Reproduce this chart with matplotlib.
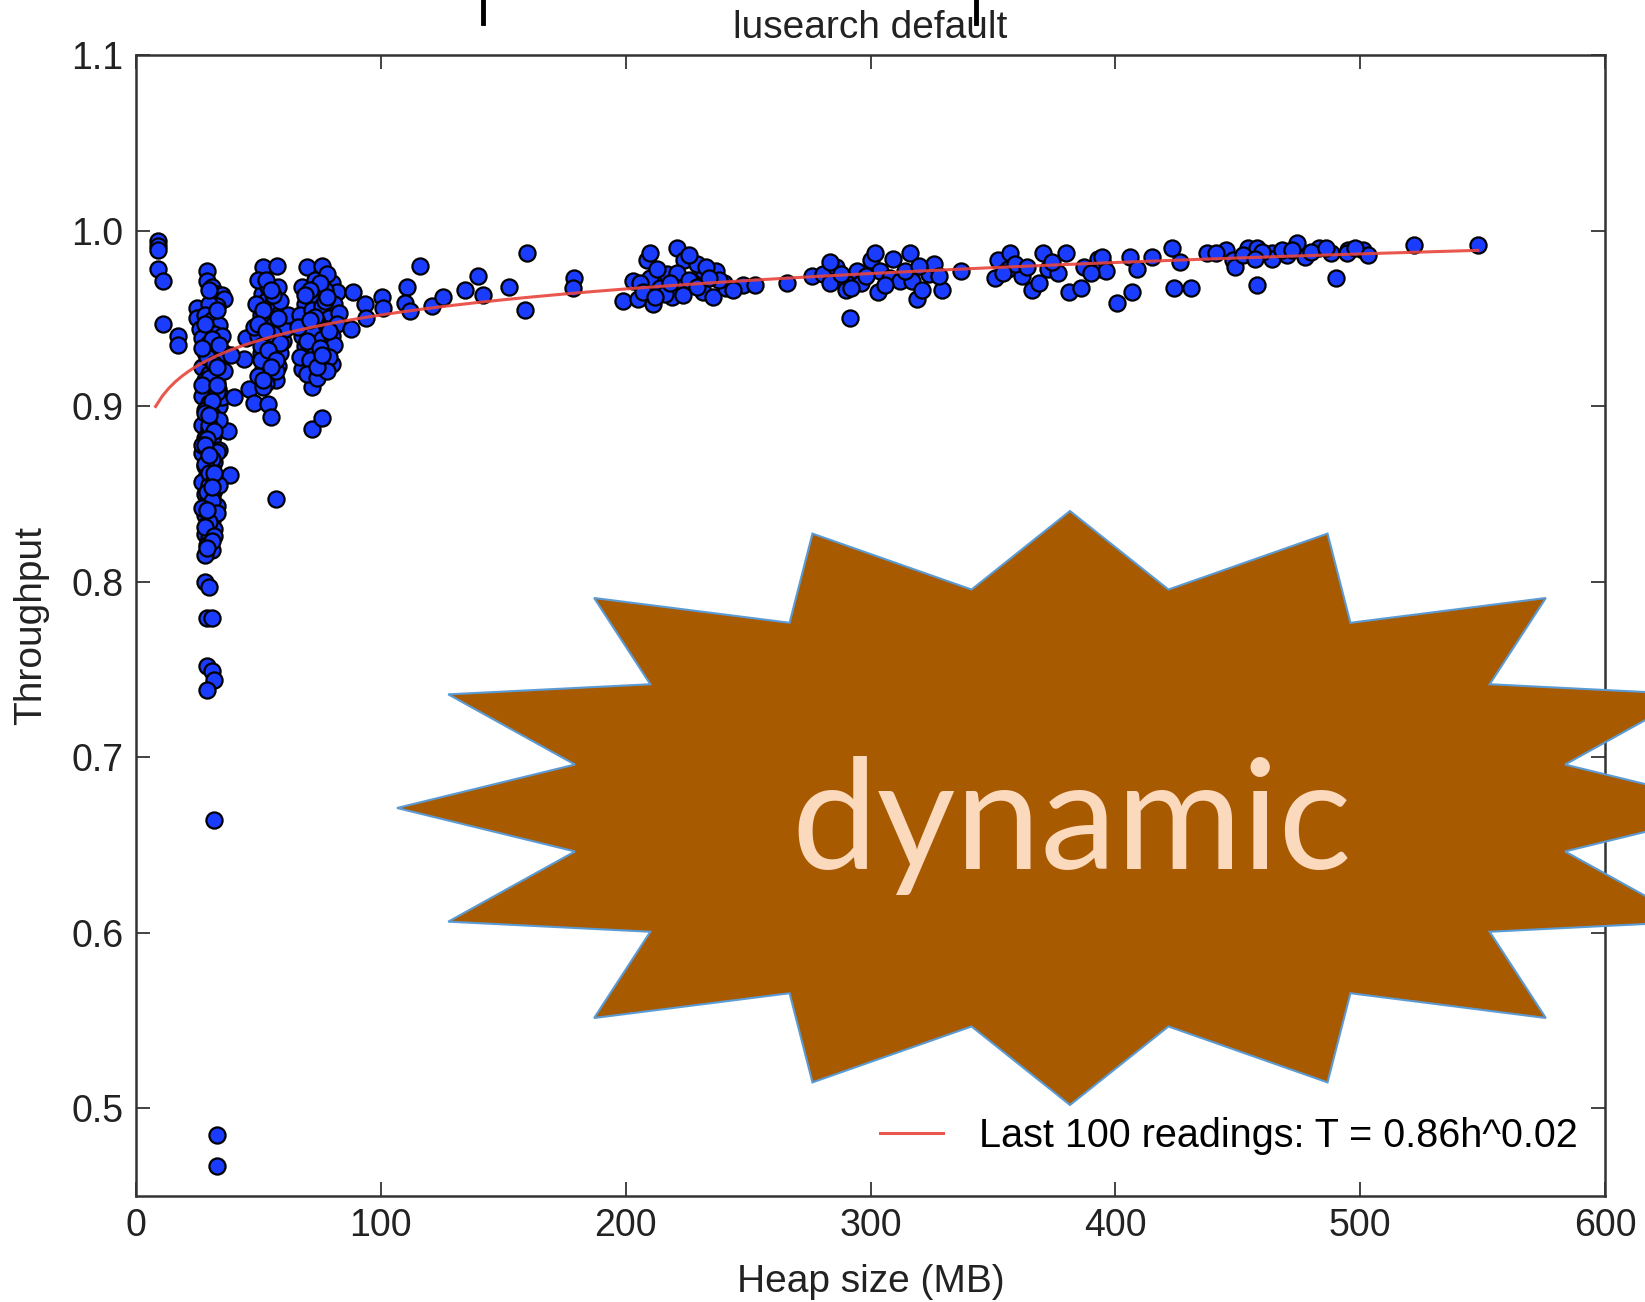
import numpy as np
import matplotlib
matplotlib.use("Agg")
import matplotlib.pyplot as plt
from matplotlib.patches import Polygon
from matplotlib.lines import Line2D

plt.rcParams['font.family'] = ['Liberation Sans', 'DejaVu Sans']

# heap size (MB) / throughput readings, grouped by region of the plot
left_x = [9, 9, 9, 9, 11, 11, 17, 17]
left_y = [0.994, 0.991, 0.989, 0.978, 0.971, 0.947, 0.940, 0.935]

col_x = [25, 25, 26, 29, 29, 31, 33, 35, 36, 33, 30, 28, 31, 34, 29, 32, 27, 30,
         33, 28, 31, 34, 29, 27, 32, 30, 28, 33, 31, 29, 27, 32, 30, 34, 28, 31,
         29, 33, 27, 30, 32, 28, 31, 29, 34, 27, 30, 32, 28, 31, 29, 33, 27, 30,
         32, 28, 31, 29, 33, 30, 28, 31, 29, 32, 28, 30, 29, 31, 28,
         28, 30, 29, 31, 29, 31, 32, 29, 32, 33, 33,
         37.5, 38.5, 33.5, 35, 36, 35, 36]
col_y = [0.956, 0.950, 0.944, 0.977, 0.971, 0.968, 0.964, 0.963, 0.961, 0.957,
         0.958, 0.952, 0.949, 0.946, 0.944, 0.941, 0.939, 0.936, 0.934, 0.931,
         0.929, 0.927, 0.925, 0.922, 0.920, 0.918, 0.915, 0.913, 0.911, 0.909,
         0.906, 0.904, 0.902, 0.900, 0.898, 0.895, 0.893, 0.891, 0.889, 0.887,
         0.884, 0.882, 0.880, 0.877, 0.875, 0.873, 0.871, 0.868, 0.866, 0.864,
         0.861, 0.859, 0.857, 0.855, 0.852, 0.850, 0.848, 0.845, 0.843, 0.840,
         0.838, 0.835, 0.833, 0.830, 0.827, 0.825, 0.821, 0.818, 0.815,
         0.800, 0.797, 0.779, 0.779, 0.752, 0.749, 0.744, 0.738, 0.664, 0.485, 0.467,
         0.886, 0.861, 0.910, 0.905, 0.930, 0.940, 0.920]

# second pass over the dense column near 30 MB
col2_x = [30, 33, 28, 31, 34, 29, 32, 30, 27, 33, 31, 28, 34, 30, 32, 29, 27,
          33, 31, 28, 30, 32, 34, 29, 31, 27, 33, 30, 28, 32, 31, 29, 33, 30,
          28, 32, 27, 31, 29, 33, 30]
col2_y = [0.966, 0.955, 0.947, 0.938, 0.935, 0.928, 0.924, 0.916, 0.912, 0.908,
          0.903, 0.896, 0.892, 0.889, 0.886, 0.881, 0.878, 0.874, 0.870, 0.867,
          0.862, 0.858, 0.855, 0.851, 0.846, 0.842, 0.839, 0.834, 0.831, 0.826,
          0.823, 0.819, 0.912, 0.895, 0.878, 0.862, 0.933, 0.854, 0.841, 0.922,
          0.872]

c2_x = [45, 44, 39, 46, 48, 54, 55, 57, 40,
        52, 57.6, 58, 51.5, 50, 53, 55, 57, 59, 51, 54, 56, 60, 52, 58, 50, 55,
        53, 57, 60, 51, 56, 54, 58, 52, 55, 57, 50, 53, 59, 61, 62, 49, 54, 56,
        53, 51, 59, 48, 57, 52,
        55, 52, 58, 50, 56, 53, 59, 51, 54, 57, 55, 52]
c2_y = [0.939, 0.927, 0.929, 0.910, 0.902, 0.901, 0.894, 0.847, 0.905,
        0.979, 0.980, 0.968, 0.964, 0.972, 0.960, 0.957, 0.955, 0.953, 0.952,
        0.949, 0.946, 0.948, 0.944, 0.942, 0.940, 0.938, 0.935, 0.933, 0.937,
        0.930, 0.928, 0.925, 0.923, 0.921, 0.918, 0.915, 0.917, 0.913, 0.960,
        0.944, 0.952, 0.958, 0.968, 0.963, 0.972, 0.934, 0.930, 0.945, 0.920,
        0.911,
        0.966, 0.955, 0.950, 0.947, 0.941, 0.943, 0.936, 0.926, 0.932, 0.926,
        0.922, 0.915]

c3_x = [70, 76, 80, 71, 68, 80, 72, 72, 76,
        68, 73, 78, 82, 69, 74, 77, 81, 67, 72, 76, 79, 83, 70, 74, 78, 82, 68,
        72, 76, 80, 69, 73, 77, 81, 67, 71, 75, 79, 70, 74, 78, 66, 75, 71,
        73, 77, 70, 79, 75, 71, 78, 74, 69, 76]
c3_y = [0.979, 0.980, 0.970, 0.961, 0.921, 0.924, 0.911, 0.887, 0.893,
        0.968, 0.972, 0.975, 0.965, 0.958, 0.962, 0.966, 0.958, 0.952, 0.955,
        0.957, 0.950, 0.953, 0.946, 0.948, 0.944, 0.947, 0.940, 0.942, 0.938,
        0.940, 0.934, 0.930, 0.932, 0.935, 0.928, 0.926, 0.924, 0.928, 0.918,
        0.916, 0.920, 0.945, 0.970, 0.966,
        0.951, 0.960, 0.937, 0.943, 0.933, 0.949, 0.962, 0.922, 0.963, 0.929]

mid_x = [88.6, 93.6, 88, 94, 100.5, 101, 110.7, 110, 112, 116, 121, 125.4,
         134.4, 139.7, 141.7, 152.4, 159.7, 159, 179, 178.5]
mid_y = [0.965, 0.958, 0.944, 0.950, 0.962, 0.956, 0.968, 0.959, 0.954, 0.980,
         0.957, 0.962, 0.966, 0.974, 0.963, 0.968, 0.987, 0.955, 0.973, 0.967]

c200_x = [199, 205, 208.7, 210, 211, 203, 210, 214, 221, 224, 206, 217, 221,
          232, 237, 229, 233, 222, 227.5, 231.6, 235.7, 240, 241, 219, 223.5,
          248, 253, 213, 226, 216, 238, 244, 207, 229, 234, 218, 212, 226]
c200_y = [0.960, 0.961, 0.983, 0.987, 0.958, 0.971, 0.973, 0.967, 0.990, 0.983,
          0.970, 0.975, 0.976, 0.976, 0.977, 0.981, 0.979, 0.967, 0.970, 0.965,
          0.962, 0.970, 0.967, 0.962, 0.963, 0.969, 0.969, 0.978, 0.972, 0.964,
          0.972, 0.966, 0.965, 0.968, 0.973, 0.970, 0.962, 0.986]

c300_x = [266, 276, 280.6, 283.5, 286, 283.5, 290, 291.7, 290, 294.5, 296, 300,
          302, 304, 309, 303, 308, 312, 316, 317, 319, 321, 324, 326, 329, 328,
          337, 298, 314, 306, 288, 320, 292]
c300_y = [0.970, 0.974, 0.975, 0.970, 0.979, 0.982, 0.970, 0.950, 0.966, 0.977,
          0.970, 0.983, 0.987, 0.977, 0.984, 0.965, 0.973, 0.971, 0.987, 0.971,
          0.961, 0.966, 0.975, 0.981, 0.966, 0.974, 0.977, 0.974, 0.977, 0.969,
          0.975, 0.980, 0.967]

c380_x = [351, 352, 357, 356, 362, 366, 369, 370.5, 372.5, 376.6, 380, 381, 386,
          387, 393, 393, 395, 394.6, 396, 400.7, 407, 406, 409, 359, 364, 354,
          374, 390]
c380_y = [0.973, 0.983, 0.987, 0.978, 0.974, 0.966, 0.970, 0.987, 0.978, 0.976,
          0.987, 0.965, 0.967, 0.979, 0.984, 0.978, 0.981, 0.985, 0.977, 0.959,
          0.965, 0.985, 0.978, 0.981, 0.979, 0.976, 0.982, 0.976]

c470_x = [415, 423, 426.5, 424, 431, 437.5, 445, 448, 449, 454, 458, 458, 464,
          464, 470, 474, 477.5, 483, 488, 490, 495, 494.7, 501, 503, 522, 548,
          452, 460, 468, 480, 486, 498, 441, 472, 457]
c470_y = [0.985, 0.990, 0.982, 0.967, 0.967, 0.987, 0.989, 0.983, 0.979, 0.990,
          0.969, 0.990, 0.987, 0.984, 0.986, 0.993, 0.985, 0.990, 0.987, 0.973,
          0.989, 0.987, 0.989, 0.986, 0.992, 0.992, 0.986, 0.988, 0.989, 0.988,
          0.990, 0.990, 0.987, 0.989, 0.984]

heap = np.array(left_x + col_x + col2_x + c2_x + c3_x + mid_x + c200_x
                + c300_x + c380_x + c470_x)
tput = np.array(left_y + col_y + col2_y + c2_y + c3_y + mid_y + c200_y
                + c300_y + c380_y + c470_y)

# power-law fit from the legend, T = a * h^b
fit_a = 0.859
fit_b = 0.0223
fit_range = (8, 548)

W, H = 1645, 1302
fig = plt.figure(figsize=(W / 100, H / 100), dpi=100)
ax = fig.add_axes([136 / W, 1 - 1196 / H, (1605 - 136) / W, (1196 - 55) / H])

ax.scatter(heap, tput, s=135, c='#1a3cff', edgecolors='black', linewidths=1.6, zorder=2)
hx = np.linspace(fit_range[0], fit_range[1], 200)
ax.plot(hx, fit_a * hx ** fit_b, color='#e8453c', lw=2.2, alpha=0.9, zorder=3,
        label='Last 100 readings: T = 0.86h^0.02')

ax.set_xlim(0, 600)
ax.set_ylim(0.45, 1.1)
ax.set_xticks(range(0, 601, 100))
ax.set_yticks([0.5, 0.6, 0.7, 0.8, 0.9, 1.0, 1.1])
ax.set_yticklabels(['0.5', '0.6', '0.7', '0.8', '0.9', '1.0', '1.1'])
ax.tick_params(direction='in', top=True, right=True, length=10, width=1.2,
               labelsize=27, pad=9, colors='#222222')
for sp in ax.spines.values():
    sp.set_linewidth(1.8)
    sp.set_color('#333333')
ax.set_xlabel('Heap size (MB)', fontsize=28, color='#222222', labelpad=14)
ax.set_ylabel('Throughput', fontsize=28, color='#222222', labelpad=16)
ax.set_title('lusearch default', fontsize=28, color='#222222', pad=12)
ax.legend(loc='lower right', frameon=False, fontsize=28.5, handlelength=1.6,
          handletextpad=0.9, borderaxespad=0.3, bbox_to_anchor=(1.0, 0.012))

# descenders of the slide title above the chart
for px in (483, 976):
    fig.add_artist(Line2D([px / W, px / W], [1, 1 - 23 / H], color='black', lw=3.5,
                          transform=fig.transFigure))

# starburst overlay
cx, cy, rx, ry = 1070, 808, 673, 297
ang = np.pi / 2 + np.arange(32) * np.pi / 16
rad = np.where(np.arange(32) % 2 == 0, 1.0, 0.75)
vx = (cx + rx * rad * np.cos(ang)) / W
vy = 1 - (cy - ry * rad * np.sin(ang)) / H
star = Polygon(np.column_stack([vx, vy]), closed=True, facecolor='#a85a00',
               edgecolor='#5b9bd5', lw=1.5, transform=fig.transFigure, zorder=5)
fig.patches.append(star)
fig.text(1072 / W, 1 - 869 / H, 'dynamic', fontsize=110, color='#fbd9bd',
         family=['Lato', 'DejaVu Sans'], fontweight='normal', ha='center',
         va='baseline', zorder=6)

fig.savefig('out.png', dpi=100)
